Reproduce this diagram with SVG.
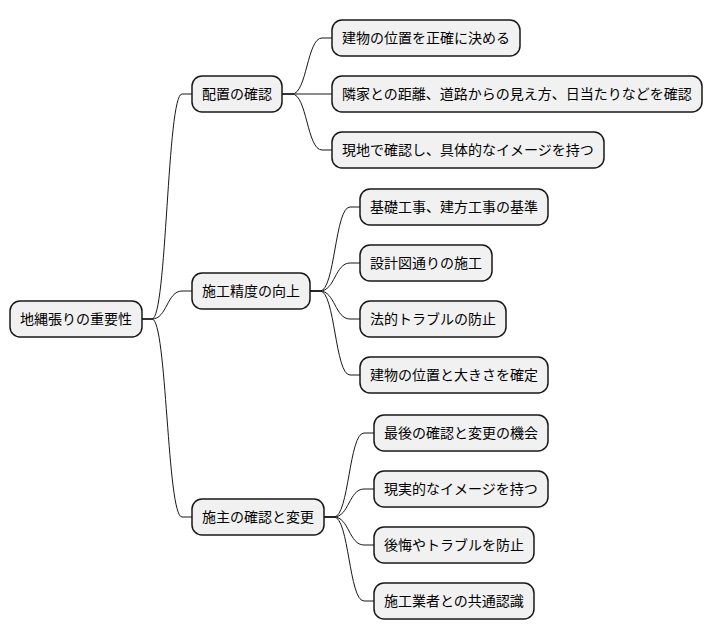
<svg xmlns="http://www.w3.org/2000/svg" width="712" height="640" viewBox="0 0 712 640">
<style>
.n rect{fill:#F1F1F1;stroke:#181818;stroke-width:1.5}
.n text{font-family:"Noto Sans CJK JP","Noto Sans CJK SC",sans-serif;font-size:14px;fill:#000}
#connectors path{fill:none;stroke:#181818;stroke-width:1}
</style>
<rect width="712" height="640" fill="#FFFFFF"/>
<g id="connectors">
<path d="M142,319 H152 C167,319 167,94 182,94 H192"/>
<path d="M142,319 H152 C167,319 167,291 182,291 H192"/>
<path d="M142,319 H152 C167,319 167,517 182,517 H192"/>
<path d="M282,94 H292 C307,94 307,38 322,38 H332"/>
<path d="M282,94 H332"/>
<path d="M282,94 H292 C307,94 307,150 322,150 H332"/>
<path d="M310,291 H320 C335,291 335,207 350,207 H360"/>
<path d="M310,291 H320 C335,291 335,263 350,263 H360"/>
<path d="M310,291 H320 C335,291 335,319 350,319 H360"/>
<path d="M310,291 H320 C335,291 335,375 350,375 H360"/>
<path d="M324,517 H334 C349,517 349,433 364,433 H374"/>
<path d="M324,517 H334 C349,517 349,489 364,489 H374"/>
<path d="M324,517 H334 C349,517 349,545 364,545 H374"/>
<path d="M324,517 H334 C349,517 349,601 364,601 H374"/>
</g>
<g id="root" class="n"><rect x="10" y="301" width="132" height="36" rx="10"/><text x="20" y="324">地縄張りの重要性</text></g>
<g id="a" class="n"><rect x="192" y="76" width="90" height="36" rx="10"/><text x="202" y="99">配置の確認</text></g>
<g id="b" class="n"><rect x="192" y="273" width="118" height="36" rx="10"/><text x="202" y="296">施工精度の向上</text></g>
<g id="c" class="n"><rect x="192" y="499" width="132" height="36" rx="10"/><text x="202" y="522">施主の確認と変更</text></g>
<g id="a1" class="n"><rect x="332" y="20" width="188" height="36" rx="10"/><text x="342" y="43">建物の位置を正確に決める</text></g>
<g id="a2" class="n"><rect x="332" y="76" width="370" height="36" rx="10"/><text x="342" y="99">隣家との距離、道路からの見え方、日当たりなどを確認</text></g>
<g id="a3" class="n"><rect x="332" y="132" width="272" height="36" rx="10"/><text x="342" y="155">現地で確認し、具体的なイメージを持つ</text></g>
<g id="b1" class="n"><rect x="360" y="189" width="188" height="36" rx="10"/><text x="370" y="212">基礎工事、建方工事の基準</text></g>
<g id="b2" class="n"><rect x="360" y="245" width="132" height="36" rx="10"/><text x="370" y="268">設計図通りの施工</text></g>
<g id="b3" class="n"><rect x="360" y="301" width="146" height="36" rx="10"/><text x="370" y="324">法的トラブルの防止</text></g>
<g id="b4" class="n"><rect x="360" y="357" width="188" height="36" rx="10"/><text x="370" y="380">建物の位置と大きさを確定</text></g>
<g id="c1" class="n"><rect x="374" y="415" width="174" height="36" rx="10"/><text x="384" y="438">最後の確認と変更の機会</text></g>
<g id="c2" class="n"><rect x="374" y="471" width="174" height="36" rx="10"/><text x="384" y="494">現実的なイメージを持つ</text></g>
<g id="c3" class="n"><rect x="374" y="527" width="160" height="36" rx="10"/><text x="384" y="550">後悔やトラブルを防止</text></g>
<g id="c4" class="n"><rect x="374" y="583" width="160" height="36" rx="10"/><text x="384" y="606">施工業者との共通認識</text></g>
</svg>
